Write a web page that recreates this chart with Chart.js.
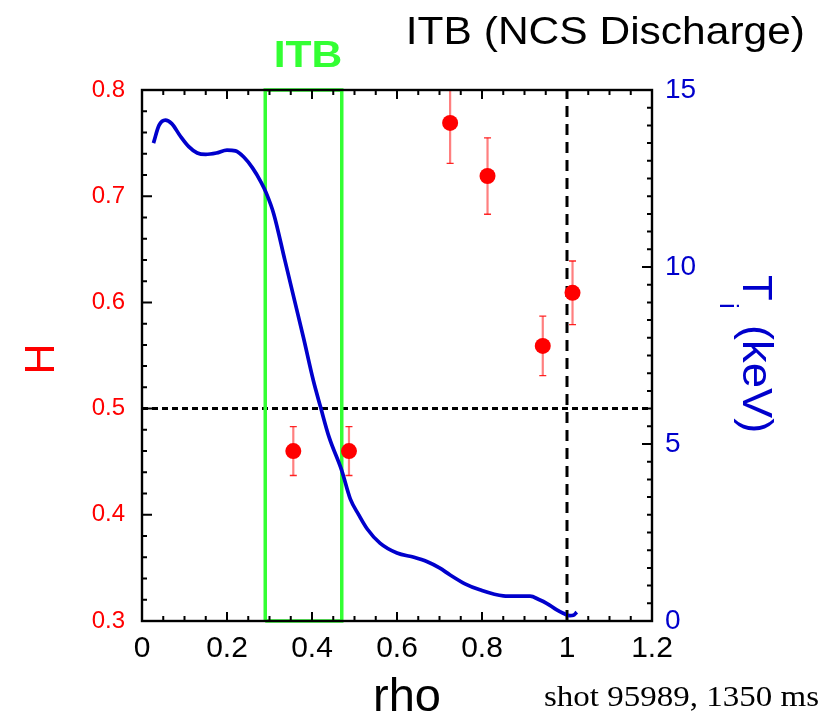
<!DOCTYPE html>
<html>
<head>
<meta charset="utf-8">
<script src="https://cdn.jsdelivr.net/npm/chart.js@4/dist/chart.umd.min.js"></script>
<style>
  html, body { margin: 0; padding: 0; background: #ffffff; }
  canvas { display: block; }
</style>
</head>
<body>
<canvas id="c" width="822" height="716"></canvas>
<script>
// ---- data ----
const tiRho = [0.027, 0.04, 0.055, 0.07, 0.09, 0.11, 0.13, 0.15, 0.175, 0.2, 0.22, 0.24, 0.26, 0.28, 0.292,
               0.31, 0.336, 0.36, 0.38, 0.403, 0.42, 0.44, 0.47, 0.49, 0.51, 0.53, 0.56, 0.6, 0.64, 0.67,
               0.7, 0.725, 0.76, 0.795, 0.85, 0.88, 0.913, 0.935, 0.952, 0.975, 0.991, 1.007, 1.015, 1.023];
const tiKeV = [13.5, 14.0, 14.15, 14.05, 13.7, 13.4, 13.22, 13.18, 13.22, 13.3, 13.28, 13.1, 12.8, 12.4, 12.1,
               11.5, 10.2, 9.0, 8.0, 6.8, 6.05, 5.2, 4.25, 3.45, 3.0, 2.6, 2.2, 1.92, 1.8, 1.68,
               1.5, 1.3, 1.05, 0.88, 0.71, 0.7, 0.7, 0.6, 0.5, 0.32, 0.22, 0.15, 0.16, 0.25];

const hRho = [0.356, 0.487, 0.725, 0.813, 0.943, 1.013];
const hVal = [0.46, 0.46, 0.769, 0.719, 0.559, 0.609];
const hErr = [0.023, 0.023, 0.038, 0.036, 0.028, 0.030];

const itbRho = [0.29, 0.47];     // ITB box edges
const itbH = [0.3, 0.8];         // ITB box bottom/top
const hRefLine = [0.5];          // horizontal dashed line (H)
const edgeRho = [1.0];           // vertical dashed line (rho)

const xTickValues = [0, 0.2, 0.4, 0.6, 0.8, 1.0, 1.2];
const xTickLabels = ['0', '0.2', '0.4', '0.6', '0.8', '1', '1.2'];
const hTickValues = [0.3, 0.4, 0.5, 0.6, 0.7, 0.8];
const hTickLabels = ['0.3', '0.4', '0.5', '0.6', '0.7', '0.8'];
const tiTickValues = [0, 5, 10, 15];
const tiTickLabels = ['0', '5', '10', '15'];

const titleText = 'ITB (NCS Discharge)';
const itbLabel = 'ITB';
const xTitle = 'rho';
const yLeftTitle = 'H';
const footText = 'shot 95989, 1350 ms';

// ---- styling ----
const RED = '#ff0000';
const BLUE = '#0000cc';
const GREEN = '#33ff33';
const SANS = '"Liberation Sans", Arial, sans-serif';

const curveData = tiRho.map((r, i) => ({ x: r, y: tiKeV[i] }));
const pointData = hRho.map((r, i) => ({ x: r, y: hVal[i] }));
const boxData = [
  { x: itbRho[0], y: itbH[0] }, { x: itbRho[1], y: itbH[0] },
  { x: itbRho[1], y: itbH[1] }, { x: itbRho[0], y: itbH[1] }, { x: itbRho[0], y: itbH[0] }
];
const hLineData = [{ x: xTickValues[0], y: hRefLine[0] }, { x: xTickValues[xTickValues.length - 1], y: hRefLine[0] }];
const vLineData = [{ x: edgeRho[0], y: hTickValues[0] }, { x: edgeRho[0], y: hTickValues[hTickValues.length - 1] }];

function stretchedText(ctx, text, x, y, sx) {
  ctx.save();
  ctx.translate(x, y);
  ctx.scale(sx, 1);
  ctx.fillText(text, 0, 0);
  ctx.restore();
}

const decorPlugin = {
  id: 'decor',
  beforeDatasetsDraw(chart) {
    const ctx = chart.ctx, x = chart.scales.x, y = chart.scales.yH, a = chart.chartArea;
    ctx.save();
    ctx.beginPath();
    ctx.rect(a.left, a.top, a.right - a.left, a.bottom - a.top);
    ctx.clip();
    for (let i = 0; i < hRho.length; i++) {
      const px = x.getPixelForValue(hRho[i]);
      const top = y.getPixelForValue(hVal[i] + hErr[i]);
      const bot = y.getPixelForValue(hVal[i] - hErr[i]);
      ctx.strokeStyle = 'rgba(255,0,0,0.5)';
      ctx.lineWidth = 2.2;
      ctx.beginPath(); ctx.moveTo(px, top); ctx.lineTo(px, bot); ctx.stroke();
      ctx.strokeStyle = 'rgba(255,0,0,0.85)';
      ctx.lineWidth = 1.3;
      ctx.beginPath();
      ctx.moveTo(px - 3.5, top); ctx.lineTo(px + 3.5, top);
      ctx.moveTo(px - 3.5, bot); ctx.lineTo(px + 3.5, bot);
      ctx.stroke();
    }
    ctx.restore();
  },
  afterDraw(chart) {
    const ctx = chart.ctx, a = chart.chartArea;
    const x = chart.scales.x, yH = chart.scales.yH, yT = chart.scales.yT;
    ctx.save();
    // frame
    ctx.strokeStyle = '#000';
    ctx.lineWidth = 2.4;
    ctx.strokeRect(a.left, a.top, a.right - a.left, a.bottom - a.top);
    ctx.lineWidth = 2;
    ctx.beginPath();
    // x ticks (inner, bottom + top)
    for (let k = 0; k <= 24; k++) {
      const v = k * 0.05;
      const px = x.getPixelForValue(v);
      const len = (k % 4 === 0) ? 9 : 5;
      ctx.moveTo(px, a.bottom); ctx.lineTo(px, a.bottom - len);
      ctx.moveTo(px, a.top); ctx.lineTo(px, a.top + len);
    }
    // left ticks
    for (let k = 0; k <= 25; k++) {
      const v = 0.3 + k * 0.02;
      const py = yH.getPixelForValue(v);
      const len = (k % 5 === 0) ? 10 : 5;
      ctx.moveTo(a.left, py); ctx.lineTo(a.left + len, py);
    }
    // right ticks
    for (let k = 0; k <= 30; k++) {
      const v = k * 0.5;
      const py = yT.getPixelForValue(v);
      const len = (k % 10 === 0) ? 10 : 5;
      ctx.moveTo(a.right, py); ctx.lineTo(a.right - len, py);
    }
    ctx.stroke();

    // titles
    ctx.fillStyle = '#000';
    ctx.font = '39px ' + SANS;
    ctx.textAlign = 'right';
    ctx.textBaseline = 'alphabetic';
    stretchedText(ctx, titleText, 805, 44, 1.09);

    ctx.fillStyle = GREEN;
    ctx.font = 'bold 37px ' + SANS;
    ctx.textAlign = 'center';
    stretchedText(ctx, itbLabel, 308, 67, 1.15);

    ctx.fillStyle = '#000';
    ctx.font = '47px ' + SANS;
    ctx.textAlign = 'center';
    ctx.fillText(xTitle, 407, 711);

    ctx.font = '30px "Liberation Serif", "Times New Roman", serif';
    ctx.textAlign = 'right';
    stretchedText(ctx, footText, 819, 706, 1.1);

    // left title H (rotated)
    ctx.save();
    ctx.translate(54, 359);
    ctx.rotate(-Math.PI / 2);
    ctx.fillStyle = RED;
    ctx.font = '43px ' + SANS;
    ctx.textAlign = 'center';
    ctx.fillText(yLeftTitle, 0, 0);
    ctx.restore();

    // right title T_i (keV) (rotated)
    ctx.save();
    ctx.translate(743, 275);
    ctx.rotate(Math.PI / 2);
    ctx.fillStyle = BLUE;
    ctx.textAlign = 'left';
    ctx.font = '42px ' + SANS;
    ctx.fillText('T', 0, 0);
    ctx.font = '26px ' + SANS;
    ctx.fillText('i', 28, 23);
    ctx.font = '42px ' + SANS;
    stretchedText(ctx, '(keV)', 50, 0, 1.08);
    ctx.restore();

    ctx.restore();
  }
};

new Chart(document.getElementById('c'), {
  type: 'scatter',
  data: {
    datasets: [
      {
        label: 'H', data: pointData, xAxisID: 'x', yAxisID: 'yH',
        showLine: false, pointRadius: 8, pointHoverRadius: 8,
        pointBackgroundColor: RED, pointBorderColor: RED, pointBorderWidth: 0
      },
      {
        label: 'Ti', data: curveData, xAxisID: 'x', yAxisID: 'yT',
        showLine: true, pointRadius: 0, borderColor: BLUE, borderWidth: 3.7,
        cubicInterpolationMode: 'monotone', fill: false
      },
      {
        label: 'ITB', data: boxData, xAxisID: 'x', yAxisID: 'yH',
        showLine: true, pointRadius: 0, borderColor: GREEN, borderWidth: 3.5,
        tension: 0, fill: false, clip: false
      },
      {
        label: 'h', data: hLineData, xAxisID: 'x', yAxisID: 'yH',
        showLine: true, pointRadius: 0, borderColor: '#000', borderWidth: 3,
        borderDash: [6, 4], fill: false
      },
      {
        label: 'v', data: vLineData, xAxisID: 'x', yAxisID: 'yH',
        showLine: true, pointRadius: 0, borderColor: '#000', borderWidth: 3,
        borderDash: [11, 7], fill: false
      }
    ]
  },
  options: {
    responsive: false,
    animation: false,
    layout: { padding: { top: 90, left: 0, right: 0, bottom: 0 } },
    plugins: { legend: { display: false }, tooltip: { enabled: false }, title: { display: false } },
    scales: {
      x: {
        type: 'linear', position: 'bottom', min: 0, max: 1.2,
        grid: { display: false, drawTicks: false },
        border: { display: false },
        afterBuildTicks: (s) => { s.ticks = xTickValues.map(v => ({ value: v })); },
        afterFit: (s) => { s.height = 95; },
        ticks: {
          color: '#000', padding: 10, maxRotation: 0, autoSkip: false,
          font: { family: SANS, size: 30 },
          callback: (v, i) => xTickLabels[i]
        }
      },
      yH: {
        type: 'linear', position: 'left', min: 0.3, max: 0.8,
        grid: { display: false, drawTicks: false },
        border: { display: false },
        afterBuildTicks: (s) => { s.ticks = hTickValues.map(v => ({ value: v })); },
        afterFit: (s) => { s.width = 142; },
        ticks: {
          color: RED, padding: 17, autoSkip: false,
          font: { family: SANS, size: 24 },
          callback: (v, i) => hTickLabels[i]
        }
      },
      yT: {
        type: 'linear', position: 'right', min: 0, max: 15,
        grid: { display: false, drawTicks: false },
        border: { display: false },
        afterBuildTicks: (s) => { s.ticks = tiTickValues.map(v => ({ value: v })); },
        afterFit: (s) => { s.width = 170; },
        ticks: {
          color: BLUE, padding: 13, autoSkip: false,
          font: { family: SANS, size: 28 },
          callback: (v, i) => tiTickLabels[i]
        }
      }
    }
  },
  plugins: [decorPlugin]
});
</script>
</body>
</html>
